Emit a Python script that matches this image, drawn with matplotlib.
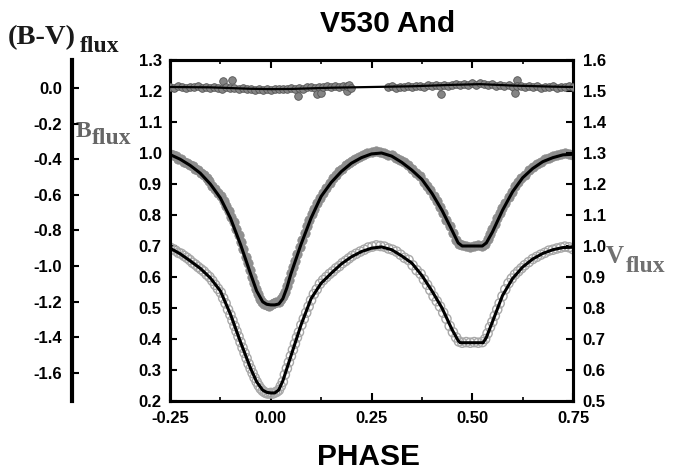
import matplotlib
matplotlib.use("Agg")
import matplotlib.pyplot as plt
from matplotlib.ticker import MultipleLocator

# ---- fitted light curves (key points) ----
fit_phase_b = [-0.25, -0.225, -0.20, -0.175, -0.15, -0.125, -0.10, -0.075, -0.05, -0.035,
               -0.02, -0.01, 0.00, 0.01, 0.02, 0.03, 0.04, 0.05, 0.075, 0.10,
               0.125, 0.15, 0.175, 0.20, 0.225, 0.25, 0.275, 0.30, 0.325, 0.35,
               0.375, 0.40, 0.425, 0.45, 0.465, 0.475, 0.50, 0.525, 0.535, 0.55,
               0.575, 0.60, 0.625, 0.65, 0.675, 0.70, 0.725, 0.75]
fit_b = [0.995, 0.980, 0.960, 0.935, 0.900, 0.855, 0.790, 0.705, 0.610, 0.555,
         0.520, 0.512, 0.510, 0.510, 0.513, 0.530, 0.565, 0.610, 0.705, 0.790,
         0.860, 0.905, 0.940, 0.967, 0.985, 0.997, 1.000, 0.990, 0.970, 0.945,
         0.915, 0.870, 0.815, 0.750, 0.710, 0.700, 0.700, 0.700, 0.710, 0.745,
         0.815, 0.875, 0.920, 0.950, 0.972, 0.985, 0.994, 0.996]

fit_phase_v = [-0.25, -0.225, -0.20, -0.175, -0.15, -0.125, -0.10, -0.075, -0.05, -0.035,
               -0.02, -0.01, 0.00, 0.01, 0.02, 0.03, 0.04, 0.05, 0.075, 0.10,
               0.125, 0.15, 0.175, 0.20, 0.225, 0.25, 0.275, 0.30, 0.325, 0.35,
               0.375, 0.40, 0.425, 0.45, 0.465, 0.47, 0.50, 0.527, 0.535, 0.55,
               0.575, 0.60, 0.625, 0.65, 0.675, 0.70, 0.725, 0.75]
fit_v = [0.993, 0.975, 0.952, 0.928, 0.897, 0.855, 0.780, 0.690, 0.605, 0.562,
         0.535, 0.528, 0.526, 0.526, 0.536, 0.565, 0.605, 0.645, 0.745, 0.830,
         0.880, 0.912, 0.942, 0.965, 0.982, 0.993, 0.997, 0.988, 0.968, 0.945,
         0.905, 0.855, 0.800, 0.730, 0.695, 0.688, 0.688, 0.688, 0.705, 0.755,
         0.840, 0.895, 0.932, 0.958, 0.976, 0.988, 0.995, 0.996]

fit_phase_bv = [-0.25, -0.15, -0.05, 0.00, 0.05, 0.15, 0.25, 0.35, 0.45, 0.52, 0.60, 0.70, 0.75]
fit_bv = [0.008, 0.006, -0.002, -0.004, -0.003, 0.004, 0.008, 0.012, 0.020, 0.024, 0.016, 0.010, 0.008]

# ---- observations ----
obs_phase_b = [-0.250, -0.243, -0.236, -0.229, -0.222, -0.215, -0.208, -0.201, -0.194, -0.187,
               -0.180, -0.173, -0.166, -0.159, -0.152, -0.145, -0.138, -0.131, -0.124, -0.117,
               -0.110, -0.104, -0.098, -0.092, -0.086, -0.080, -0.074, -0.068, -0.062, -0.057,
               -0.052, -0.047, -0.042, -0.037, -0.032, -0.027, -0.022, -0.016, -0.010, -0.004,
               0.002, 0.008, 0.014, 0.020, 0.025, 0.030, 0.035, 0.040, 0.045, 0.050,
               0.055, 0.060, 0.066, 0.072, 0.078, 0.084, 0.090, 0.096, 0.102, 0.108,
               0.115, 0.122, 0.130, 0.138, 0.146, 0.154, 0.162, 0.170, 0.178, 0.186,
               0.194, 0.202, 0.210, 0.220, 0.230, 0.240, 0.250, 0.260, 0.270, 0.280,
               0.290, 0.300, 0.310, 0.320, 0.330, 0.340, 0.350, 0.360, 0.370, 0.380,
               0.388, 0.396, 0.404, 0.412, 0.420, 0.428, 0.436, 0.444, 0.452, 0.460,
               0.467, 0.475, 0.485, 0.495, 0.505, 0.515, 0.525, 0.532, 0.538, 0.544,
               0.550, 0.556, 0.562, 0.568, 0.575, 0.582, 0.590, 0.598, 0.606, 0.614,
               0.622, 0.630, 0.640, 0.650, 0.660, 0.670, 0.680, 0.690, 0.700, 0.710,
               0.720, 0.730, 0.740, 0.750]
obs_b = [0.998, 0.992, 0.990, 0.982, 0.980, 0.972, 0.968, 0.962, 0.958, 0.950,
         0.945, 0.935, 0.930, 0.918, 0.910, 0.895, 0.885, 0.872, 0.862, 0.845,
         0.828, 0.812, 0.795, 0.778, 0.755, 0.735, 0.712, 0.690, 0.665, 0.645,
         0.622, 0.600, 0.580, 0.562, 0.545, 0.530, 0.518, 0.512, 0.510, 0.508,
         0.512, 0.515, 0.518, 0.520, 0.528, 0.540, 0.552, 0.570, 0.590, 0.612,
         0.632, 0.652, 0.675, 0.698, 0.720, 0.742, 0.765, 0.785, 0.802, 0.820,
         0.838, 0.855, 0.872, 0.888, 0.902, 0.918, 0.930, 0.942, 0.950, 0.960,
         0.968, 0.975, 0.980, 0.988, 0.995, 1.000, 1.002, 1.005, 1.003, 1.000,
         0.995, 0.992, 0.985, 0.978, 0.972, 0.962, 0.950, 0.935, 0.925, 0.908,
         0.895, 0.880, 0.862, 0.845, 0.825, 0.808, 0.785, 0.765, 0.742, 0.720,
         0.705, 0.702, 0.700, 0.698, 0.700, 0.702, 0.700, 0.708, 0.722, 0.738,
         0.755, 0.770, 0.790, 0.805, 0.822, 0.840, 0.858, 0.875, 0.892, 0.905,
         0.918, 0.930, 0.945, 0.955, 0.965, 0.972, 0.980, 0.985, 0.990, 0.995,
         0.998, 1.000, 0.998, 0.995]

obs_phase_v = [-0.250, -0.243, -0.236, -0.229, -0.222, -0.215, -0.208, -0.201, -0.194, -0.187,
               -0.180, -0.173, -0.166, -0.159, -0.152, -0.145, -0.138, -0.131, -0.124, -0.118,
               -0.112, -0.106, -0.100, -0.095, -0.090, -0.085, -0.080, -0.075, -0.070, -0.065,
               -0.060, -0.055, -0.050, -0.045, -0.040, -0.035, -0.030, -0.025, -0.020, -0.015,
               -0.010, -0.005, 0.000, 0.005, 0.010, 0.015, 0.020, 0.025, 0.030, 0.035,
               0.040, 0.045, 0.050, 0.055, 0.060, 0.065, 0.070, 0.076, 0.082, 0.088,
               0.094, 0.100, 0.107, 0.114, 0.122, 0.130, 0.138, 0.146, 0.154, 0.162,
               0.170, 0.178, 0.186, 0.194, 0.202, 0.212, 0.222, 0.232, 0.242, 0.252,
               0.262, 0.272, 0.282, 0.292, 0.302, 0.312, 0.322, 0.332, 0.342, 0.352,
               0.362, 0.372, 0.380, 0.388, 0.396, 0.404, 0.412, 0.420, 0.428, 0.436,
               0.444, 0.452, 0.460, 0.467, 0.475, 0.485, 0.495, 0.505, 0.515, 0.525,
               0.532, 0.538, 0.544, 0.550, 0.556, 0.562, 0.568, 0.575, 0.582, 0.590,
               0.598, 0.606, 0.614, 0.622, 0.630, 0.640, 0.650, 0.660, 0.670, 0.680,
               0.690, 0.700, 0.710, 0.720, 0.730, 0.740, 0.750]
obs_v = [0.995, 0.990, 0.985, 0.978, 0.975, 0.968, 0.962, 0.955, 0.946, 0.940,
         0.932, 0.925, 0.918, 0.908, 0.900, 0.888, 0.875, 0.862, 0.850, 0.832,
         0.815, 0.795, 0.778, 0.760, 0.742, 0.725, 0.708, 0.690, 0.672, 0.655,
         0.638, 0.620, 0.605, 0.590, 0.575, 0.562, 0.550, 0.540, 0.533, 0.528,
         0.525, 0.524, 0.526, 0.524, 0.527, 0.530, 0.535, 0.548, 0.562, 0.585,
         0.605, 0.625, 0.645, 0.665, 0.685, 0.705, 0.722, 0.745, 0.765, 0.785,
         0.805, 0.825, 0.845, 0.860, 0.878, 0.890, 0.900, 0.910, 0.918, 0.928,
         0.935, 0.945, 0.952, 0.960, 0.968, 0.975, 0.982, 0.988, 0.995, 0.998,
         1.002, 1.000, 0.998, 0.992, 0.988, 0.982, 0.972, 0.962, 0.955, 0.938,
         0.922, 0.910, 0.892, 0.875, 0.858, 0.838, 0.822, 0.805, 0.785, 0.765,
         0.742, 0.722, 0.705, 0.692, 0.688, 0.690, 0.688, 0.690, 0.688, 0.690,
         0.700, 0.718, 0.738, 0.755, 0.775, 0.795, 0.815, 0.838, 0.860, 0.880,
         0.895, 0.908, 0.918, 0.928, 0.938, 0.948, 0.958, 0.965, 0.972, 0.978,
         0.985, 0.988, 0.992, 0.995, 0.998, 0.996, 0.990]

obs_phase_bv = [-0.25, -0.24, -0.23, -0.22, -0.21, -0.20, -0.19, -0.18, -0.17, -0.16,
                -0.15, -0.14, -0.13, -0.118, -0.096, -0.12, -0.11, -0.10, -0.09, -0.08,
                -0.07, -0.06, -0.05, -0.04, -0.03, -0.02, -0.01, 0.00, 0.01, 0.02,
                0.03, 0.04, 0.05, 0.068, 0.06, 0.07, 0.08, 0.09, 0.10, 0.11,
                0.115, 0.12, 0.125, 0.13, 0.14, 0.15, 0.16, 0.17, 0.18, 0.188,
                0.19, 0.195, 0.20,
                0.29, 0.30, 0.31, 0.32, 0.33, 0.34, 0.35, 0.36, 0.37, 0.38,
                0.39, 0.40, 0.41, 0.422, 0.42, 0.43, 0.44, 0.45, 0.46, 0.47,
                0.48, 0.49, 0.50, 0.51, 0.52, 0.53, 0.54, 0.55, 0.56, 0.57,
                0.58, 0.59, 0.60, 0.606, 0.611, 0.61, 0.62, 0.63, 0.64, 0.65,
                0.66, 0.67, 0.68, 0.69, 0.70, 0.71, 0.72, 0.73, 0.74, 0.75]
obs_bv = [0.010, 0.004, 0.012, 0.008, 0.003, 0.010, 0.006, 0.012, 0.002, 0.008,
          0.002, 0.010, 0.004, 0.040, 0.046, -0.005, 0.006, 0.000, 0.004, -0.004,
          0.002, -0.006, -0.002, -0.008, -0.003, -0.010, -0.004, -0.008, -0.002, -0.006,
          -0.002, -0.004, 0.002, -0.040, -0.006, 0.004, -0.002, 0.006, 0.008, 0.004,
          -0.030, 0.010, -0.028, 0.006, 0.012, 0.008, 0.016, 0.010, 0.014, -0.014,
          0.012, 0.022, 0.004,
          0.006, 0.012, 0.004, 0.010, 0.008, 0.014, 0.006, 0.012, 0.016, 0.010,
          0.018, 0.012, 0.020, -0.032, 0.014, 0.022, 0.016, 0.018, 0.024, 0.018,
          0.026, 0.020, 0.028, 0.022, 0.030, 0.024, 0.020, 0.026, 0.016, 0.022,
          0.012, 0.018, 0.010, -0.026, 0.047, 0.016, 0.012, 0.008, 0.014, 0.006,
          0.012, 0.004, 0.010, 0.006, 0.012, 0.004, 0.010, 0.006, 0.012, 0.008]

x_ticks = [-0.25, 0.00, 0.25, 0.50, 0.75]
x_tick_labels = ["-0.25", "0.00", "0.25", "0.50", "0.75"]


W, H = 681, 470
sans = "Liberation Sans"
serif = "Liberation Serif"
plt.rcParams["font.family"] = sans
plt.rcParams["font.weight"] = "bold"

fig = plt.figure(figsize=(W / 100, H / 100), dpi=100)
rect = [170 / W, 1 - 401 / H, 403 / W, 341 / H]

ax = fig.add_axes(rect)
ax2 = ax.twinx()
ax3 = fig.add_axes(rect, sharex=ax)
ax3.patch.set_visible(False)

frame_lw = 2.2
for a in (ax, ax2):
    for s in a.spines.values():
        s.set_linewidth(frame_lw)

# B flux (left axis)
ax.scatter(obs_phase_b, obs_b, s=46, color="#8f8f8f", edgecolors="#8a8a8a", linewidths=0.5, zorder=2)
ax.plot(fit_phase_b, fit_b, color="black", lw=2.2, zorder=3)
ax.set_xlim(-0.25, 0.75)
ax.set_ylim(0.2, 1.3)
ax.set_yticks([0.2, 0.3, 0.4, 0.5, 0.6, 0.7, 0.8, 0.9, 1.0, 1.1, 1.2, 1.3])
ax.set_yticklabels(["0.2", "0.3", "0.4", "0.5", "0.6", "0.7", "0.8", "0.9", "1.0", "1.1", "1.2", "1.3"])
ax.set_xticks(x_ticks)
ax.set_xticklabels(x_tick_labels)
ax.xaxis.set_minor_locator(MultipleLocator(0.125))
ax.tick_params(axis="x", which="major", direction="in", length=6, width=1.5, top=True, pad=7, labelsize=12)
ax.tick_params(axis="x", which="minor", direction="in", length=3, width=1.2, top=True)
ax.tick_params(axis="y", which="major", direction="in", length=5, width=1.5, right=False, pad=6, labelsize=12)

# V flux (right axis)
ax2.scatter(obs_phase_v, obs_v, s=44, facecolors="none", edgecolors="#a8a8a8", linewidths=1.0, zorder=2)
ax2.plot(fit_phase_v, fit_v, color="black", lw=2.2, zorder=3)
ax2.set_ylim(0.5, 1.6)
ax2.set_yticks([0.5, 0.6, 0.7, 0.8, 0.9, 1.0, 1.1, 1.2, 1.3, 1.4, 1.5, 1.6])
ax2.set_yticklabels(["0.5", "0.6", "0.7", "0.8", "0.9", "1.0", "1.1", "1.2", "1.3", "1.4", "1.5", "1.6"])
ax2.tick_params(axis="y", direction="in", length=5, width=1.5, pad=7, labelsize=12)

# B-V colour (separate axis at far left)
ax3.scatter(obs_phase_bv, obs_bv, s=30, color="#858585", edgecolors="#555555", linewidths=0.6, zorder=2)
ax3.plot(fit_phase_bv, fit_bv, color="black", lw=1.6, zorder=3)
ax3.set_ylim(-1.76, 0.16)
ax3.set_yticks([0.0, -0.2, -0.4, -0.6, -0.8, -1.0, -1.2, -1.4, -1.6])
ax3.set_yticklabels(["0.0", "-0.2", "-0.4", "-0.6", "-0.8", "-1.0", "-1.2", "-1.4", "-1.6"])
for name in ("top", "right", "bottom"):
    ax3.spines[name].set_visible(False)
ax3.spines["left"].set_position(("axes", -0.243))
ax3.spines["left"].set_linewidth(3)
ax3.xaxis.set_visible(False)
ax3.tick_params(axis="y", direction="in", length=5, width=1.5, pad=7, labelsize=12)

# texts
fig.text(387.5 / W, 1 - 24 / H, "V530 And", ha="center", va="center", fontsize=21.5, fontweight="bold")
fig.text(368 / W, 1 - 457 / H, "PHASE", ha="center", va="center", fontsize=21.5, fontweight="bold")


def px_text(x, y, s, size, color):
    fig.text(x / W, 1 - y / H, s, ha="left", va="baseline", fontsize=size,
             fontweight="bold", family=serif, color=color)


px_text(8, 44, "(B-V)", 20.5, "#1a1a1a")
px_text(80, 52, "flux", 17, "#1a1a1a")
px_text(76, 137, "B", 17, "#666666")
px_text(92, 144, "flux", 17, "#666666")
px_text(606, 263, "V", 18, "#707070")
px_text(626, 272, "flux", 17, "#707070")

fig.savefig("out.png", dpi=100)
